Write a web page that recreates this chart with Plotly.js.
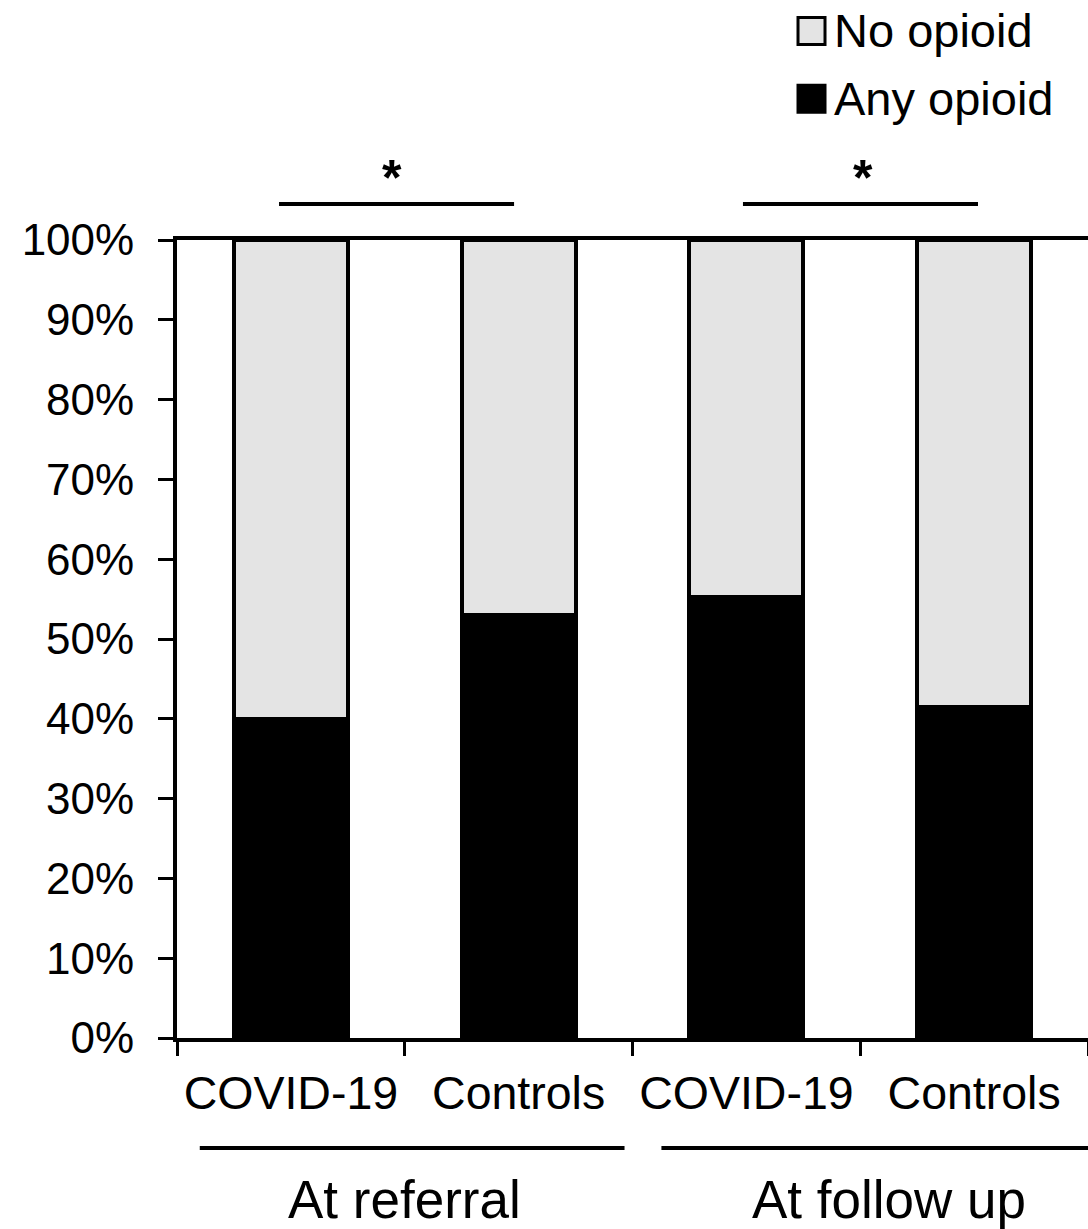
<!DOCTYPE html>
<html>
<head>
<meta charset="utf-8">
<script src="https://cdn.plot.ly/plotly-3.0.1.min.js"></script>
<style>
  html, body { margin: 0; padding: 0; background: #fff; overflow: hidden; }
  #chart { width: 1088px; height: 1229px; }
</style>
</head>
<body>
<div id="chart"></div>
<script>
// Opioid use by group, at referral and at follow up
const barKeys = ['ref-covid', 'ref-ctrl', 'fu-covid', 'fu-ctrl'];
const barLabels = ['COVID-19', 'Controls', 'COVID-19', 'Controls'];
const anyOpioid = [0.40, 0.53, 0.553, 0.415];
const noOpioid = [0.60, 0.47, 0.447, 0.585];
const seriesNames = ['No opioid', 'Any opioid'];
const seriesColors = ['#e4e4e4', '#000000'];
const groupNames = ['At referral', 'At follow up'];
// significance brackets: [from bar, to bar]
const sigPairs = [[0, 1], [2, 3]];
const sigText = '*';

const FONT = 'Arial, "Liberation Sans", Helvetica, sans-serif';

const traces = [
  {
    type: 'bar', name: seriesNames[1], x: barKeys, y: anyOpioid,
    marker: { color: seriesColors[1], line: { color: '#000', width: 4 } },
    width: 0.5, showlegend: false, hoverinfo: 'skip'
  },
  {
    type: 'bar', name: seriesNames[0], x: barKeys, y: noOpioid,
    marker: { color: seriesColors[0], line: { color: '#000', width: 4 } },
    width: 0.5, showlegend: false, hoverinfo: 'skip'
  }
];

const shapes = [];
const annotations = [];

// significance brackets above the bars (end offsets in category units)
const sigEnds = [[-0.052, -0.02], [-0.015, 0.017]];
const sigMarkShift = [-0.056, 0.012];
sigPairs.forEach(([a, b], i) => {
  shapes.push({
    type: 'line', xref: 'x', yref: 'paper',
    x0: a + sigEnds[i][0], x1: b + sigEnds[i][1], y0: 1.045, y1: 1.045,
    line: { color: '#000', width: 4 }
  });
  annotations.push({
    xref: 'x', yref: 'paper', x: (a + b) / 2 + sigMarkShift[i], y: 1.078,
    text: '<b>' + sigText + '</b>', showarrow: false, yanchor: 'middle',
    font: { family: FONT, size: 50, color: '#000' }
  });
});

// group labels under the category labels
const groupLines = [[-0.4, 1.465], [1.627, 3.6]];
const groupCenters = [0.5, 2.626];
groupNames.forEach((g, i) => {
  shapes.push({
    type: 'line', xref: 'x', yref: 'paper',
    x0: groupLines[i][0], x1: groupLines[i][1], y0: -0.138, y1: -0.138,
    line: { color: '#000', width: 4 }
  });
  annotations.push({
    xref: 'x', yref: 'paper', x: groupCenters[i], y: -0.203,
    text: g, showarrow: false, yanchor: 'middle',
    font: { family: FONT, size: 53, color: '#000' }
  });
});

// legend: swatch + label per series
const legendY = [1.262, 1.177];
seriesNames.forEach((n, i) => {
  shapes.push({
    type: 'rect', xref: 'paper', yref: 'paper',
    xsizemode: 'pixel', ysizemode: 'pixel',
    xanchor: 0.6965, yanchor: legendY[i],
    x0: -13.5, x1: 13.5, y0: -13.5, y1: 13.5,
    fillcolor: seriesColors[i], line: { color: '#000', width: 3 }
  });
  annotations.push({
    xref: 'paper', yref: 'paper', x: 0.719, y: legendY[i],
    xanchor: 'left', yanchor: 'middle', text: n, showarrow: false,
    font: { family: FONT, size: 47, color: '#000' }
  });
});

const layout = {
  width: 1088, height: 1229,
  margin: { l: 177, r: 0, t: 240, b: 191, pad: 0 },
  paper_bgcolor: '#fff', plot_bgcolor: '#fff',
  barmode: 'stack',
  showlegend: false,
  font: { family: FONT, color: '#000' },
  xaxis: {
    type: 'category', tickmode: 'array', tickvals: barKeys, ticktext: barLabels,
    tickson: 'boundaries', range: [-0.5, 3.5],
    ticks: 'outside', ticklen: 14, tickwidth: 3, tickcolor: '#000',
    ticklabelstandoff: 11,
    showline: true, linecolor: '#000', linewidth: 4, mirror: true,
    showgrid: false, zeroline: false,
    tickfont: { family: FONT, size: 46.5, color: '#000' },
    automargin: false
  },
  yaxis: {
    range: [0, 1], tickmode: 'linear', tick0: 0, dtick: 0.1, tickformat: '.0%',
    ticks: 'outside', ticklen: 15, tickwidth: 3, tickcolor: '#000',
    ticklabelstandoff: 15,
    showline: true, linecolor: '#000', linewidth: 4, mirror: true,
    showgrid: false, zeroline: false,
    tickfont: { family: FONT, size: 44, color: '#000' },
    automargin: false
  },
  shapes: shapes,
  annotations: annotations
};

Plotly.newPlot('chart', traces, layout, { staticPlot: true, displayModeBar: false });
</script>
</body>
</html>
